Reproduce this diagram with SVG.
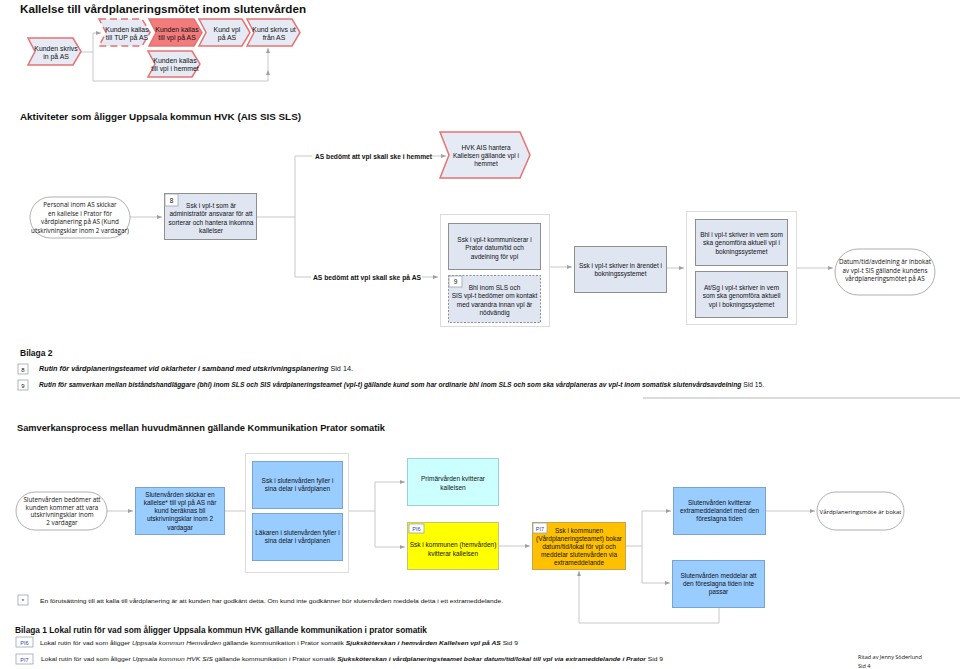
<svg xmlns="http://www.w3.org/2000/svg" width="960" height="669" viewBox="0 0 960 669">
<defs>
<marker id="arr" viewBox="0 0 10 10" refX="10" refY="5" markerWidth="5" markerHeight="5" orient="auto" markerUnits="userSpaceOnUse"><path d="M0,1 L10,5 L0,9 Z" fill="#a0a0a0"/></marker>
</defs>
<style>
text{font-family:"Liberation Sans",Arial,sans-serif;fill:#111}
.t{font-size:6.5px;text-anchor:middle}
.tt{font-size:6.9px;text-anchor:middle}
.tc{font-size:6.3px;text-anchor:middle;font-family:"Open Sans","Liberation Sans",sans-serif}
.chev{fill:#e6eaf4;stroke:#e57373;stroke-width:1.5}
.box{fill:#dfe5f1;stroke:#8f8f8f;stroke-width:1}
.cont{fill:#fff;stroke:#dcdcdc;stroke-width:1}
.oval{fill:#fff;stroke:#9a9a9a;stroke-width:0.8}
.blue{fill:#99ccff;stroke:#7aa3cf;stroke-width:1}
.tag{fill:#fff;stroke:#9aa3b5;stroke-width:0.8}
.ln{fill:none;stroke:#c8c8c8;stroke-width:1}
.note{font-size:6.5px}
</style>
<rect width="960" height="669" fill="#fff"/>

<text x="20" y="13" style="font-size:11px;font-weight:bold" textLength="286" lengthAdjust="spacingAndGlyphs">Kallelse till vårdplaneringsmötet inom slutenvården</text>

<g id="connectors">
<path class="ln" d="M81,52 H93 V81 H268 V70" marker-end="url(#arr)"/>
<path class="ln" d="M268,70 V48" marker-end="url(#arr)"/>
<path class="ln" d="M93,52 V33 H101" marker-end="url(#arr)"/>
<path class="ln" d="M295,156 H312"/>
<path class="ln" d="M432,156 H446" marker-end="url(#arr)"/>
<path class="ln" d="M130,217 H162" marker-end="url(#arr)"/>
<path class="ln" d="M257,217 H295 V156"/>
<path class="ln" d="M295,217 V277 H311"/>
<path class="ln" d="M422,277 H438" marker-end="url(#arr)"/>
<path class="ln" d="M549,267 H572" marker-end="url(#arr)"/>
<path class="ln" d="M667,268 H684" marker-end="url(#arr)"/>
<path class="ln" d="M797,268 H833" marker-end="url(#arr)"/>
<path class="ln" d="M107,511 H133" marker-end="url(#arr)"/>
<path class="ln" d="M224,511 H245"/>
<path class="ln" d="M348,511 H375 V482 H405" marker-end="url(#arr)"/>
<path class="ln" d="M375,511 V547 H405" marker-end="url(#arr)"/>
<path class="ln" d="M498,546 H530" marker-end="url(#arr)"/>
<path class="ln" d="M625,546 H642 V511 H671" marker-end="url(#arr)"/>
<path class="ln" d="M642,546 V583 H670" marker-end="url(#arr)"/>
<path class="ln" d="M766,511 H815" marker-end="url(#arr)"/>
<path class="ln" d="M719,607 V623 H579 V571" marker-end="url(#arr)"/>
<path d="M643,398 H960" stroke="#b8b8b8" stroke-width="1"/>
</g>

<g id="n-skrivs-in">
<path class="chev" d="M28,38 H73 L81,51.5 L73,65 H28 L35,51.5 Z"/>
<text class="tt" x="56" y="50.5">Kunden skrivs</text><text class="tt" x="56" y="58.5">in på AS</text>
</g>
<g id="n-tup">
<path class="chev" d="M99,19 H142 L150,32.5 L142,46 H99 L106,32.5 Z" stroke-dasharray="7,4"/>
<text class="tt" x="127" y="31.5">Kunden kallas</text><text class="tt" x="127" y="40">till TUP på AS</text>
</g>
<g id="n-kallas-vpl">
<path class="chev" d="M149,19 H194 L202,32.5 L194,46 H149 L156,32.5 Z" style="fill:#f27b7b"/>
<text class="tt" x="177" y="31.5">Kunden kallas</text><text class="tt" x="177" y="39.5">till vpl på AS</text>
</g>
<g id="n-kund-vpl">
<path class="chev" d="M199,19 H242 L250,32.5 L242,46 H199 L206,32.5 Z"/>
<text class="tt" x="227" y="31.5">Kund vpl</text><text class="tt" x="227" y="39.5">på AS</text>
</g>
<g id="n-skrivs-ut">
<path class="chev" d="M247,19 H292 L300,32.5 L292,46 H247 L254,32.5 Z"/>
<text class="tt" x="274" y="31.5">Kund skrivs ut</text><text class="tt" x="274" y="39.5">från AS</text>
</g>
<g id="n-hemmet">
<path class="chev" d="M148,51 H192 L200,64 L192,77 H148 L155,64 Z"/>
<text class="tt" x="175" y="62.5">Kunden kallas</text><text class="tt" x="175" y="71">till vpl  i hemmet</text>
</g>

<text x="20" y="120" style="font-size:9.2px;font-weight:bold" textLength="281" lengthAdjust="spacingAndGlyphs">Aktiviteter som åligger Uppsala kommun HVK (AIS SIS SLS)</text>

<g id="l-hemmet"><text x="315" y="158.5" style="font-size:6.8px;font-weight:bold" textLength="117" lengthAdjust="spacingAndGlyphs">AS bedömt att vpl skall ske i hemmet</text></g>
<g id="n-hvk-ais">
<path class="chev" d="M440,132 H520 L530,155 L520,178 H440 L449,155 Z"/>
<text class="t" x="486" y="150">HVK AIS hantera</text><text class="t" x="486" y="158">Kallelsen gällande vpl i</text><text class="t" x="486" y="166">hemmet</text>
</g>

<g id="n-personal">
<rect class="oval" x="30" y="197" width="100" height="41" rx="20.5"/>
<text class="tc" x="80" y="207">Personal inom AS skickar</text><text class="tc" x="80" y="215.5">en kallelse i Prator för</text><text class="tc" x="80" y="224">vårdplanering på AS (Kund</text><text class="tc" x="80" y="232.5">utskrivningsklar inom 2 vardagar)</text>
</g>
<g id="n-8">
<rect class="box" x="164.5" y="193.5" width="92" height="46"/>
<rect class="tag" x="165" y="194" width="13" height="12"/>
<text x="171.5" y="202.5" style="font-size:6.5px;text-anchor:middle">8</text>
<text class="t" x="211" y="207.5">Ssk i vpl-t  som är</text><text class="t" x="211" y="216">administratör ansvarar för att</text><text class="t" x="211" y="224.5">sorterar och hantera inkomna</text><text class="t" x="211" y="233">kallelser</text>
</g>

<g id="l-as"><text x="313" y="279.5" style="font-size:6.8px;font-weight:bold" textLength="108" lengthAdjust="spacingAndGlyphs">AS bedömt att vpl skall ske på AS</text></g>

<g id="n-cont1">
<rect class="cont" x="440.5" y="214.5" width="109" height="112"/>
<rect class="box" x="448.5" y="223.5" width="92" height="46"/>
<text class="t" x="494.5" y="241.5">Ssk i vpl-t kommunicerar i</text><text class="t" x="494.5" y="250">Prator datum/tid och</text><text class="t" x="494.5" y="258.5">avdelning för vpl</text>
<rect class="box" x="448.5" y="275.5" width="92" height="47" stroke-dasharray="2,1.5"/>
<rect class="tag" x="449" y="276" width="13" height="11"/>
<text x="455.5" y="284" style="font-size:6.5px;text-anchor:middle">9</text>
<text class="t" x="494.5" y="289.5">Bhl inom SLS och</text><text class="t" x="494.5" y="298">SIS vpl-t bedömer om kontakt</text><text class="t" x="494.5" y="306.5">med varandra innan vpl är</text><text class="t" x="494.5" y="315">nödvändig</text>
</g>

<g id="n-skriver">
<rect class="box" x="574.5" y="246.5" width="92" height="46"/>
<text class="t" x="620.5" y="267.5">Ssk i vpl-t skriver in ärendet i</text><text class="t" x="620.5" y="276">bokningssystemet</text>
</g>

<g id="n-cont2">
<rect class="cont" x="686.5" y="211.5" width="110" height="113"/>
<rect class="box" x="695.5" y="219.5" width="92" height="46"/>
<text class="t" x="741.5" y="236.5">Bhl i vpl-t skriver in vem som</text><text class="t" x="741.5" y="245">ska genomföra aktuell vpl i</text><text class="t" x="741.5" y="253.5">bokningssystemet</text>
<rect class="box" x="695.5" y="271.5" width="92" height="46"/>
<text class="t" x="741.5" y="289.5">At/Sg i vpl-t skriver in vem</text><text class="t" x="741.5" y="298">som ska genomföra aktuell</text><text class="t" x="741.5" y="306.5">vpl i bokningssystemet</text>
</g>

<g id="n-datum">
<rect class="oval" x="835" y="249" width="100" height="46" rx="23"/>
<text class="tc" x="885" y="264">Datum/tid/avdelning är inbokat</text><text class="tc" x="885" y="272.5">av vpl-t SIS gällande kundens</text><text class="tc" x="885" y="281">vårdplaneringsmötet på AS</text>
</g>

<g id="bilaga2">
<text x="20" y="356" style="font-size:8.5px;font-weight:bold">Bilaga 2</text>
<rect class="tag" x="18" y="364" width="10" height="10"/>
<text x="23" y="371.5" style="font-size:6px;text-anchor:middle">8</text>
<text x="39" y="370.5" class="note" textLength="314" lengthAdjust="spacingAndGlyphs"><tspan style="font-weight:bold;font-style:italic">Rutin för vårdplaneringsteamet vid oklarheter i samband med utskrivningsplanering</tspan> Sid 14.</text>
<rect class="tag" x="18" y="380" width="10" height="10"/>
<text x="23" y="387.5" style="font-size:6px;text-anchor:middle">9</text>
<text x="39" y="386.5" class="note" textLength="725" lengthAdjust="spacingAndGlyphs"><tspan style="font-weight:bold;font-style:italic">Rutin för samverkan mellan biståndshandläggare (bhl) inom SLS och SIS vårdplaneringsteamet (vpl-t) gällande kund som har ordinarie bhl inom SLS och som ska vårdplaneras av vpl-t inom somatisk slutenvårdsavdelning</tspan> Sid 15.</text>
</g>

<text x="17" y="430.5" style="font-size:9.2px;font-weight:bold" textLength="368" lengthAdjust="spacingAndGlyphs">Samverkansprocess mellan huvudmännen gällande Kommunikation Prator somatik</text>

<g id="n-sv-bedomer">
<rect class="oval" x="16" y="492" width="91" height="38" rx="19"/>
<text class="tc" x="62" y="502">Slutenvården bedömer att</text><text class="tc" x="62" y="509.5">kunden kommer att vara</text><text class="tc" x="62" y="517">utskrivningsklar inom</text><text class="tc" x="62" y="524.5">2 vardagar</text>
</g>
<g id="n-sv-skickar">
<rect class="blue" x="135.5" y="487.5" width="89" height="47"/>
<text class="t" x="180" y="496.5">Slutenvården skickar en</text><text class="t" x="180" y="504.5">kallelse* till vpl på AS när</text><text class="t" x="180" y="513">kund beräknas bli</text><text class="t" x="180" y="521">utskrivningsklar inom 2</text><text class="t" x="180" y="529.5">vardagar</text>
</g>
<g id="n-cont3">
<rect class="cont" x="245.5" y="453.5" width="103" height="119"/>
<rect class="blue" x="252.5" y="461.5" width="90" height="47"/>
<text class="t" x="297.5" y="482.5">Ssk  i slutenvården fyller i</text><text class="t" x="297.5" y="490.5">sina delar i vårdplanen</text>
<rect class="blue" x="252.5" y="513.5" width="90" height="47"/>
<text class="t" x="297.5" y="534.5">Läkaren i slutenvården fyller i</text><text class="t" x="297.5" y="542.5">sina delar i vårdplanen</text>
</g>
<g id="n-primar">
<rect x="407.5" y="458.5" width="91" height="47" style="fill:#ccffff;stroke:#9ccfd6;stroke-width:1"/>
<text class="t" x="453" y="481">Primärvården kvitterar</text><text class="t" x="453" y="489.5">kallelsen</text>
</g>
<g id="n-pi6">
<rect x="407.5" y="522.5" width="91" height="47" style="fill:#ffff00;stroke:#c9c27a;stroke-width:1"/>
<rect class="tag" x="409" y="524" width="15" height="9"/>
<text x="416.5" y="531" style="font-size:5.5px;text-anchor:middle;fill:#3344aa">PI6</text>
<text class="t" x="453" y="547">Ssk i kommunen (hemvården)</text><text class="t" x="453" y="555.5">kvitterar kallelsen</text>
</g>
<g id="n-pi7">
<rect x="532.5" y="522.5" width="93" height="47" style="fill:#ffc000;stroke:#c9a24a;stroke-width:1"/>
<rect class="tag" x="533" y="523" width="14" height="10"/>
<text x="540" y="530.5" style="font-size:5.5px;text-anchor:middle;fill:#3344aa">PI7</text>
<text class="t" x="579" y="532.5">Ssk i kommunen</text><text class="t" x="579" y="540.5">(Vårdplaneringsteamet) bokar</text><text class="t" x="579" y="548.5">datum/tid/lokal för vpl och</text><text class="t" x="579" y="556.5">meddelar slutenvården via</text><text class="t" x="579" y="564.5">extrameddelande</text>
</g>
<g id="n-sv-kvitterar">
<rect class="blue" x="673.5" y="487.5" width="92" height="47"/>
<text class="t" x="719.5" y="504.5">Slutenvården kvitterar</text><text class="t" x="719.5" y="512.5">extrameddelandet med den</text><text class="t" x="719.5" y="520.5">föreslagna tiden</text>
</g>
<g id="n-bokat">
<rect class="oval" x="817" y="492" width="87" height="38" rx="19"/>
<text class="tc" x="860.5" y="513.5" style="font-size:6px">Vårdplaneringsmöte är bokat</text>
</g>
<g id="n-sv-meddelar">
<rect class="blue" x="672.5" y="560.5" width="92" height="47"/>
<text class="t" x="718.5" y="577.5">Slutenvården meddelar att</text><text class="t" x="718.5" y="585.5">den föreslagna tiden inte</text><text class="t" x="718.5" y="593.5">passar</text>
</g>

<g id="footnotes">
<rect class="tag" x="18" y="595" width="10" height="10"/>
<text x="23" y="602.5" style="font-size:6px;text-anchor:middle">*</text>
<text x="40" y="603" style="font-size:5.9px" textLength="463" lengthAdjust="spacingAndGlyphs">En förutsättning till att kalla till vårdplanering är att kunden har godkänt detta. Om kund inte godkänner bör slutenvården meddela detta i ett extrameddelande.</text>
<text x="15" y="632.5" style="font-size:8.6px;font-weight:bold" textLength="412" lengthAdjust="spacingAndGlyphs">Bilaga 1 Lokal rutin för vad som åligger Uppsala kommun HVK gällande kommunikation i prator somatik</text>
<rect class="tag" x="16" y="637" width="17" height="10"/>
<text x="24.5" y="644.5" style="font-size:5.5px;text-anchor:middle;fill:#3344aa">PI6</text>
<text x="40" y="644.5" style="font-size:5.9px" textLength="478" lengthAdjust="spacingAndGlyphs">Lokal rutin för vad som åligger <tspan style="font-style:italic">Uppsala kommun Hemvården</tspan>  gällande  kommunikation i Prator somatik  <tspan style="font-weight:bold;font-style:italic">Sjuksköterskan i  hemvården Kallelsen vpl på AS</tspan> Sid 9</text>
<rect class="tag" x="16" y="654" width="17" height="10"/>
<text x="24.5" y="661.5" style="font-size:5.5px;text-anchor:middle;fill:#3344aa">PI7</text>
<text x="41" y="661" style="font-size:5.9px" textLength="622" lengthAdjust="spacingAndGlyphs">Lokal rutin för vad som åligger <tspan style="font-style:italic">Uppsala kommun HVK SIS</tspan>  gällande  kommunikation i Prator somatik  <tspan style="font-weight:bold;font-style:italic">Sjuksköterskan i vårdplaneringsteamet bokar datum/tid/lokal till vpl via extrameddelande i Prator</tspan> Sid 9</text>
<text x="858" y="659" style="font-size:5.5px;font-family:'Open Sans','Liberation Sans',sans-serif">Ritad av Jenny Söderlund</text>
<text x="858" y="668" style="font-size:5.5px;font-family:'Open Sans','Liberation Sans',sans-serif">Sid 4</text>
</g>
</svg>
